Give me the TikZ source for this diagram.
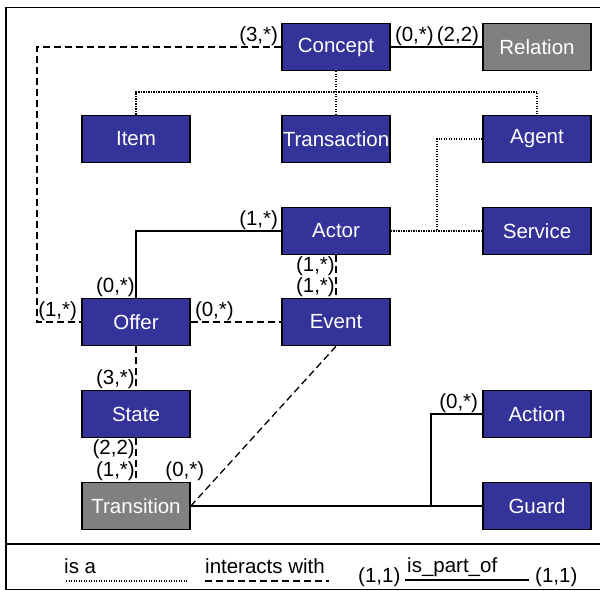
\documentclass[tikz,border=0pt]{standalone}
\usepackage{fontspec}
\setmainfont{Liberation Sans}
\definecolor{clsblue}{RGB}{51,51,153}
\definecolor{clsgray}{RGB}{128,128,128}
\begin{document}
\begin{tikzpicture}[x=1pt,y=-1pt,
  every node/.style={font=\fontsize{20.5}{24}\selectfont},
  cls/.style={draw=black, line width=1.6pt, fill=clsblue, text=white,
    minimum width=108pt, minimum height=47pt, inner sep=0pt},
  abstr/.style={cls, fill=clsgray},
  card/.style={inner sep=1pt, text=black},
  legtext/.style={inner sep=0pt, text=black},
  isa/.style={line width=1.2pt, dash pattern=on 1.2pt off 1.3pt},
  inter/.style={line width=1.3pt, dash pattern=on 7pt off 4pt},
  part/.style={line width=1.3pt}]
\useasboundingbox (0,0) rectangle (600,591);

% outer frame with legend strip
\draw[line width=1.5pt] (600,7.5) -- (6,7.5) -- (6,589.5) -- (600,589.5);
\draw[line width=1.5pt] (6,544) -- (600,544);

% classes
\node[cls]   (concept)     at (336,47)  {Concept};
\node[abstr] (relation)    at (537,47)  {Relation};
\node[cls]   (item)        at (136,139) {Item};
\node[cls]   (transaction) at (336,139) {Transaction};
\node[cls]   (agent)       at (537,139) {Agent};
\node[cls]   (actor)       at (336,231) {Actor};
\node[cls]   (service)     at (537,231) {Service};
\node[cls]   (offer)       at (136,322) {Offer};
\node[cls]   (event)       at (336,322) {Event};
\node[cls]   (state)       at (136,414) {State};
\node[cls]   (action)      at (537,414) {Action};
\node[abstr] (transition)  at (136,506) {Transition};
\node[cls]   (guard)       at (537,506) {Guard};

% bend points
\coordinate (isabar)  at (336,92);
\coordinate (agentj)  at (437,231);
\coordinate (loopl)   at (37,47);
\coordinate (fork)    at (431,506);

% is-a links
\draw[isa] (concept.south) -- (transaction.north);
\draw[isa] (item.north) |- (isabar) -| (agent.north);
\draw[isa] (actor.east) -- (service.west);
\draw[isa] (agent.west) -| (agentj);

% interaction links
\draw[inter] (concept.west) -- (loopl) |- (offer.west);
\draw[inter] (offer.east) -- (event.west);
\draw[inter] (actor.south) -- (event.north);
\draw[inter] (offer.south) -- (state.north);
\draw[inter] (state.south) -- (transition.north);
\draw[inter] (event.south) -- (transition.east);

% part-of links
\draw[part] (concept.east) -- (relation.west);
\draw[part] (actor.west) -| (offer.north);
\draw[part] (transition.east) -- (guard.west);
\draw[part] (transition.east) -- (fork) |- (action.west);

% cardinalities
\node[card, anchor=south east] (c1)  at ([xshift=-2pt]concept.west) {(3,*)};
\node[card, anchor=south west] (c2)  at ([xshift=3pt]concept.east) {(0,*)};
\node[card, anchor=south east] (c3)  at ([xshift=-2pt]relation.west) {(2,2)};
\node[card, anchor=south east] (c4)  at ([xshift=-2pt]actor.west) {(1,*)};
\node[card, anchor=south east] (c5)  at (offer.north) {(0,*)};
\node[card, anchor=south east] (c6)  at ([xshift=-3pt]offer.west) {(1,*)};
\node[card, anchor=south west] (c7)  at ([xshift=3pt]offer.east) {(0,*)};
\node[card, anchor=north east] (c8)  at (actor.south) {(1,*)};
\node[card, anchor=south east] (c9)  at (event.north) {(1,*)};
\node[card, anchor=south east] (c10) at (state.north) {(3,*)};
\node[card, anchor=north east] (c11) at (state.south) {(2,2)};
\node[card, anchor=south east] (c12) at (transition.north) {(1,*)};
\node[card, anchor=south]      (c13) at ([xshift=-6pt]transition.north east) {(0,*)};
\node[card, anchor=south east] (c14) at ([xshift=-3pt]action.west) {(0,*)};

% legend
\node[legtext, anchor=base west] (lisa) at (64,573) {is a};
\coordinate (lisa1) at (66,581);
\coordinate (lisa2) at (188,581);
\draw[isa] (lisa1) -- (lisa2);

\node[legtext, anchor=base west] (linter) at (205,573) {interacts with};
\coordinate (linter1) at (205,581);
\coordinate (linter2) at (329,581);
\draw[inter] (linter1) -- (linter2);

\node[legtext, anchor=base west] (lcard1) at (358,582) {(1,1)};
\node[legtext, anchor=base west] (lpart) at (407,572) {is\_part\_of};
\coordinate (lpart1) at (405,580);
\coordinate (lpart2) at (529,580);
\draw[part] (lpart1) -- (lpart2);
\node[legtext, anchor=base west] (lcard2) at (535,582) {(1,1)};
\end{tikzpicture}
\end{document}
